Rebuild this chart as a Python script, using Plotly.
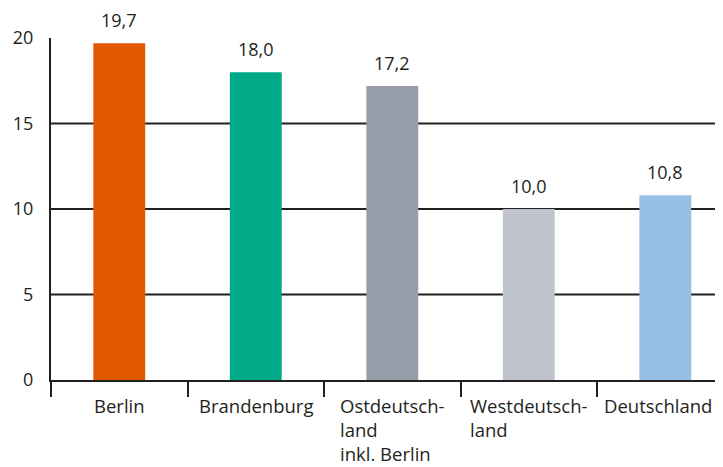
import plotly.graph_objects as go

categories = ["Berlin", "Brandenburg", "Ostdeutschland inkl. Berlin", "Westdeutschland", "Deutschland"]
axis_labels = ["Berlin", "Brandenburg", "Ostdeutsch-<br>land<br>inkl. Berlin", "Westdeutsch-<br>land", "Deutschland"]
values = [19.7, 18.0, 17.2, 10.0, 10.8]
colors = ["#E05800", "#00AA86", "#979EAA", "#BFC4CC", "#95C0E4"]
y_ticks = [0, 5, 10, 15, 20]
grid_values = [5, 10, 15]

FONT = "Open Sans"
INK = "#231F20"

# page body has an 8px margin on every side; the figure is drawn inside it
BODY = 8
FIG_W = 723 - 2 * BODY
FIG_H = 467 - BODY

fig = go.Figure()
fig.add_trace(go.Bar(
    x=categories, y=values, marker=dict(color=colors, line=dict(width=0)),
    width=0.38, hoverinfo="skip",
))

annotations = []
for c, v in zip(categories, values):
    annotations.append(dict(
        x=c, y=v, xref="x", yref="y", text=f"{v:.1f}".replace(".", ","),
        showarrow=False, yanchor="middle", yshift=23,
        font=dict(family=FONT, size=18, color=INK),
    ))
for i, (c, lab) in enumerate(zip(categories, axis_labels)):
    last = i == len(categories) - 1
    annotations.append(dict(
        x=1 if last else c, xref="paper" if last else "x",
        y=0, yref="paper", text=lab, align="left",
        showarrow=False, yanchor="top", xanchor="right" if last else "center",
        yshift=-11, xshift=-1 if last else 0,
        font=dict(family=FONT, size=18.5, color=INK),
    ))

shapes = [dict(type="line", xref="paper", x0=0, x1=1, yref="y", y0=g, y1=g,
               line=dict(color=INK, width=2), layer="below") for g in grid_values]

fig.update_layout(
    width=FIG_W, height=FIG_H,
    margin=dict(l=51 - BODY, r=0, t=38 - BODY, b=87),
    paper_bgcolor="white", plot_bgcolor="white",
    showlegend=False,
    annotations=annotations,
    shapes=shapes,
    font=dict(family=FONT, size=18, color=INK),
    xaxis=dict(
        range=[-0.5, 4.364], showticklabels=False, showgrid=False,
        showline=True, linecolor=INK, linewidth=2,
        ticks="outside", tickson="boundaries", ticklen=15, tickwidth=2, tickcolor=INK,
        fixedrange=True,
    ),
    yaxis=dict(
        range=[0, 20], tickvals=y_ticks, showgrid=False, zeroline=False,
        showline=True, linecolor=INK, linewidth=2,
        ticks="outside", ticklen=12, tickcolor="rgba(0,0,0,0)",
        tickfont=dict(family=FONT, size=18, color=INK),
        fixedrange=True,
    ),
)

fig.write_html("out.html")
